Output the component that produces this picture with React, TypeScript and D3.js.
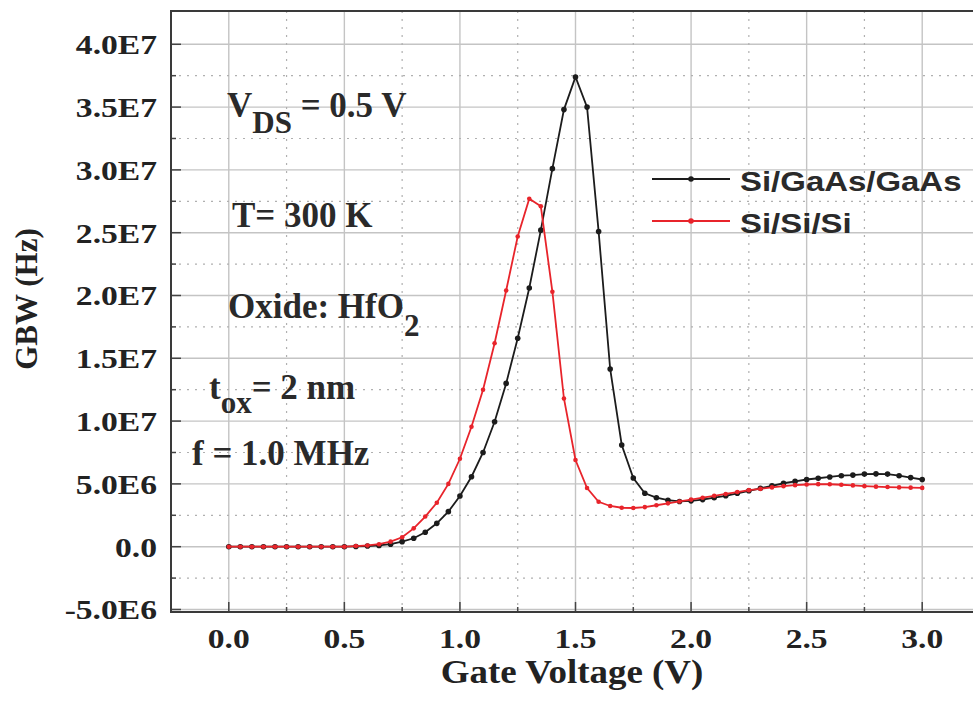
import React from 'react';
import * as d3 from 'd3';

// gate voltage (V)
const voltage = [
  0.0, 0.05, 0.1, 0.15, 0.2, 0.25, 0.3, 0.35, 0.4, 0.45, 0.5, 0.55, 0.6, 0.65, 0.7, 0.75,
  0.8, 0.85, 0.9, 0.95, 1.0, 1.05, 1.1, 1.15, 1.2, 1.25, 1.3, 1.35, 1.4, 1.45, 1.5, 1.55,
  1.6, 1.65, 1.7, 1.75, 1.8, 1.85, 1.9, 1.95, 2.0, 2.05, 2.1, 2.15, 2.2, 2.25, 2.3, 2.35,
  2.4, 2.45, 2.5, 2.55, 2.6, 2.65, 2.7, 2.75, 2.8, 2.85, 2.9, 2.95, 3.0,
];
// GBW in units of 1E6 Hz
const gaasGbw = [
  0, 0, 0, 0, 0, 0, 0, 0, 0, 0, 0, 0.02, 0.05, 0.1, 0.2, 0.4,
  0.67, 1.15, 1.86, 2.79, 4.04, 5.57, 7.5, 9.95, 13.0, 16.6, 20.6, 25.2, 30.1, 34.8, 37.4, 35.0,
  25.1, 14.15, 8.1, 5.47, 4.25, 3.9, 3.7, 3.6, 3.65, 3.75, 3.9, 4.05, 4.25, 4.45, 4.65, 4.85,
  5.05, 5.2, 5.35, 5.45, 5.55, 5.65, 5.7, 5.78, 5.8, 5.78, 5.65, 5.5, 5.35,
];
const siGbw = [
  0, 0, 0, 0, 0, 0, 0, 0, 0, 0, 0, 0.05, 0.1, 0.2, 0.4, 0.75,
  1.46, 2.4, 3.5, 5.0, 7.0, 9.55, 12.5, 16.2, 20.4, 24.7, 27.7, 27.1, 20.3, 11.8, 6.9, 4.67,
  3.58, 3.24, 3.1, 3.08, 3.15, 3.3, 3.45, 3.6, 3.75, 3.9, 4.05, 4.2, 4.35, 4.5, 4.6, 4.72,
  4.82, 4.9, 4.95, 4.98, 4.97, 4.93, 4.88, 4.82, 4.78, 4.75, 4.72, 4.7, 4.68,
];
const seriesNames = ['Si/GaAs/GaAs', 'Si/Si/Si'];
const seriesColors = ['#1c1c1c', '#e8242b'];
const xTicks = [0, 0.5, 1.0, 1.5, 2.0, 2.5, 3.0];
const xMinor = [-0.25, 0.25, 0.75, 1.25, 1.75, 2.25, 2.75, 3.25];
const yTicks = [-5e6, 0, 5e6, 1e7, 1.5e7, 2e7, 2.5e7, 3e7, 3.5e7, 4e7];
const yTickLabels = ['-5.0E6', '0.0', '5.0E6', '1.0E7', '1.5E7', '2.0E7', '2.5E7', '3.0E7', '3.5E7', '4.0E7'];
const yMinor = [-2.5e6, 2.5e6, 7.5e6, 1.25e7, 1.75e7, 2.25e7, 2.75e7, 3.25e7, 3.75e7];

const width = 973, height = 702;
const plot = { left: 171, right: 980, top: 11, bottom: 612 };
const serif = '"Liberation Serif", "Times New Roman", serif';
const sans = '"Liberation Sans", Arial, sans-serif';

function GbwChart() {
  const svgRef = React.useRef<SVGSVGElement>(null);

  React.useEffect(() => {
    const xScale = d3.scaleLinear().domain([-0.25, 3.25]).range([plot.left, plot.right]);
    const yScale = d3.scaleLinear().domain([-5.2e6, 4.265e7]).range([plot.bottom, plot.top]);

    const svg = d3.select(svgRef.current);
    svg.selectAll('*').remove();

    // grid
    const grid = svg.append('g');
    grid.selectAll('.vmaj').data(xTicks).enter().append('line')
      .attr('x1', d => xScale(d)).attr('x2', d => xScale(d))
      .attr('y1', plot.top).attr('y2', plot.bottom)
      .attr('stroke', '#c4c4c4').attr('stroke-width', 1.4);
    grid.selectAll('.hmaj').data(yTicks).enter().append('line')
      .attr('y1', d => yScale(d)).attr('y2', d => yScale(d))
      .attr('x1', plot.left).attr('x2', plot.right)
      .attr('stroke', '#c4c4c4').attr('stroke-width', 1.4);
    grid.selectAll('.vmin').data(xMinor).enter().append('line')
      .attr('x1', d => xScale(d)).attr('x2', d => xScale(d))
      .attr('y1', plot.top).attr('y2', plot.bottom)
      .attr('stroke', '#b0b0b0').attr('stroke-width', 1.2).attr('stroke-dasharray', '2,6');
    grid.selectAll('.hmin').data(yMinor).enter().append('line')
      .attr('y1', d => yScale(d)).attr('y2', d => yScale(d))
      .attr('x1', plot.left).attr('x2', plot.right)
      .attr('stroke', '#b0b0b0').attr('stroke-width', 1.2).attr('stroke-dasharray', '2,6');

    // ticks (inward)
    const ticks = svg.append('g').attr('stroke', '#444').attr('stroke-width', 1.5);
    ticks.selectAll('.xt').data(xTicks).enter().append('line')
      .attr('x1', d => xScale(d)).attr('x2', d => xScale(d))
      .attr('y1', plot.bottom).attr('y2', plot.bottom - 10);
    ticks.selectAll('.xm').data(xMinor).enter().append('line')
      .attr('x1', d => xScale(d)).attr('x2', d => xScale(d))
      .attr('y1', plot.bottom).attr('y2', plot.bottom - 5);
    ticks.selectAll('.yt').data(yTicks).enter().append('line')
      .attr('y1', d => yScale(d)).attr('y2', d => yScale(d))
      .attr('x1', plot.left).attr('x2', plot.left + 10);
    ticks.selectAll('.ym').data(yMinor).enter().append('line')
      .attr('y1', d => yScale(d)).attr('y2', d => yScale(d))
      .attr('x1', plot.left).attr('x2', plot.left + 5);

    // frame
    svg.append('rect')
      .attr('x', plot.left).attr('y', plot.top)
      .attr('width', plot.right - plot.left).attr('height', plot.bottom - plot.top)
      .attr('fill', 'none').attr('stroke', '#3a3a3a').attr('stroke-width', 2);

    // tick labels (the source font is a bit stretched horizontally)
    svg.selectAll('.xl').data(xTicks).enter().append('text')
      .attr('transform', d => `translate(${xScale(d)},648) scale(1.2,1)`)
      .attr('text-anchor', 'middle')
      .attr('font-family', serif).attr('font-weight', 'bold').attr('font-size', 28)
      .attr('fill', '#222')
      .text(d => d.toFixed(1));
    svg.selectAll('.yl').data(yTicks).enter().append('text')
      .attr('transform', d => `translate(157,${yScale(d) + 10}) scale(1.2,1)`)
      .attr('text-anchor', 'end')
      .attr('font-family', serif).attr('font-weight', 'bold').attr('font-size', 28)
      .attr('fill', '#222')
      .text((d, i) => yTickLabels[i]);

    // axis titles
    svg.append('text')
      .attr('transform', 'translate(572,683) scale(1.12,1)')
      .attr('text-anchor', 'middle')
      .attr('font-family', serif).attr('font-weight', 'bold').attr('font-size', 33)
      .attr('fill', '#222')
      .text('Gate Voltage (V)');
    svg.append('text')
      .attr('transform', 'translate(37,299) rotate(-90)')
      .attr('text-anchor', 'middle')
      .attr('font-family', serif).attr('font-weight', 'bold').attr('font-size', 31)
      .attr('fill', '#222')
      .text('GBW (Hz)');

    // series
    const line = d3.line<number>()
      .x((d, i) => xScale(voltage[i]))
      .y(d => yScale(d * 1e6));
    const series = [gaasGbw, siGbw];
    series.forEach((vals, s) => {
      const g = svg.append('g');
      g.append('path')
        .attr('d', line(vals))
        .attr('fill', 'none')
        .attr('stroke', seriesColors[s])
        .attr('stroke-width', 1.8);
      g.selectAll('circle').data(vals).enter().append('circle')
        .attr('cx', (d, i) => xScale(voltage[i]))
        .attr('cy', d => yScale(d * 1e6))
        .attr('r', s === 0 ? 2.8 : 2.3)
        .attr('fill', seriesColors[s]);
    });
    // draw black on top again where they overlap at low voltage? keep order as in source (red on top)

    // legend
    const legend = svg.append('g');
    seriesNames.forEach((name, i) => {
      const ly = 179 + i * 42;
      legend.append('line')
        .attr('x1', 652).attr('x2', 730).attr('y1', ly).attr('y2', ly)
        .attr('stroke', seriesColors[i]).attr('stroke-width', 1.8);
      legend.append('circle')
        .attr('cx', 691).attr('cy', ly).attr('r', 2.8).attr('fill', seriesColors[i]);
      legend.append('text')
        .attr('transform', `translate(740,${ly + 12}) scale(1.22,1)`)
        .attr('font-family', sans).attr('font-weight', 'bold').attr('font-size', 27)
        .attr('fill', '#2a2a2a')
        .text(name);
    });

    // annotations
    const note = svg.append('g')
      .attr('font-family', serif).attr('font-weight', 'bold').attr('fill', '#2a2a2a');
    const t1 = note.append('text').attr('x', 227).attr('y', 117).attr('font-size', 35);
    t1.append('tspan').text('V');
    t1.append('tspan').attr('dy', 16).attr('font-size', 31).text('DS');
    t1.append('tspan').attr('dy', -16).text(' = 0.5 V');
    note.append('text').attr('x', 232).attr('y', 227).attr('font-size', 35).text('T= 300 K');
    const t3 = note.append('text').attr('x', 228).attr('y', 318).attr('font-size', 35);
    t3.append('tspan').text('Oxide: HfO');
    t3.append('tspan').attr('dy', 18).attr('font-size', 31).text('2');
    const t4 = note.append('text').attr('x', 209).attr('y', 399).attr('font-size', 35);
    t4.append('tspan').text('t');
    t4.append('tspan').attr('dy', 14).attr('font-size', 31).text('ox');
    t4.append('tspan').attr('dy', -14).text('= 2 nm');
    note.append('text').attr('x', 192).attr('y', 465).attr('font-size', 35).text('f = 1.0 MHz');
  }, []);

  return (
    <svg
      ref={svgRef}
      width={width}
      height={height}
      style={{ position: 'absolute', left: 0, top: 0, background: '#fff' }}
    />
  );
}

export default function App() {
  return <GbwChart />;
}
